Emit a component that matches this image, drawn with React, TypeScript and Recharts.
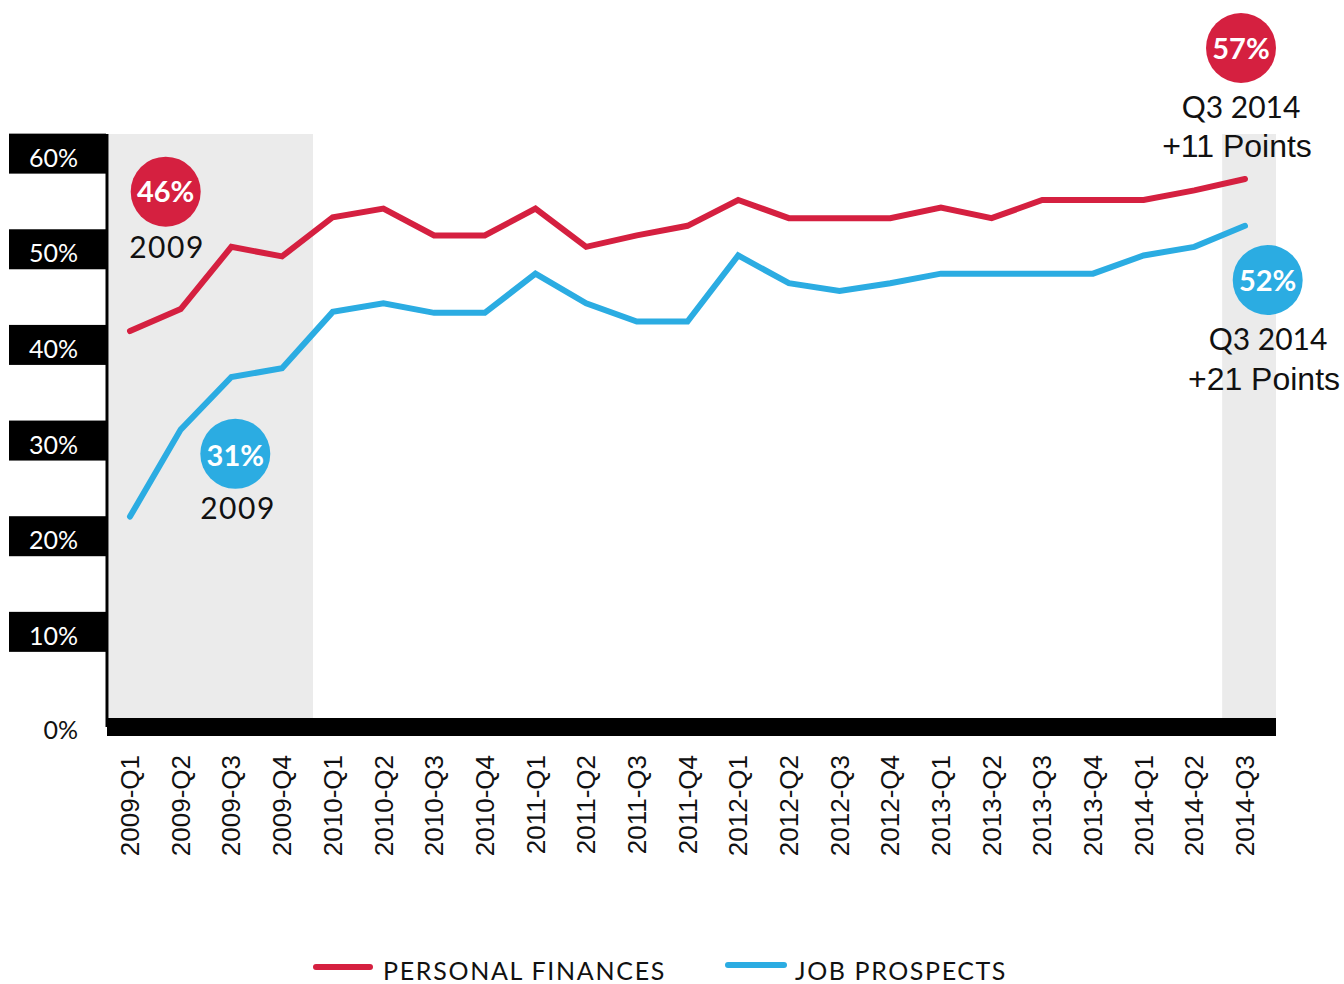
import { LineChart, Line, XAxis, YAxis, ReferenceArea } from 'recharts';

const quarters = [
  '2009-Q1', '2009-Q2', '2009-Q3', '2009-Q4',
  '2010-Q1', '2010-Q2', '2010-Q3', '2010-Q4',
  '2011-Q1', '2011-Q2', '2011-Q3', '2011-Q4',
  '2012-Q1', '2012-Q2', '2012-Q3', '2012-Q4',
  '2013-Q1', '2013-Q2', '2013-Q3', '2013-Q4',
  '2014-Q1', '2014-Q2', '2014-Q3',
];
const personalFinances = [
  41.4, 43.7, 50.2, 49.2, 53.3, 54.2, 51.4, 51.4, 54.2, 50.2, 51.4, 52.4,
  55.1, 53.2, 53.2, 53.2, 54.3, 53.2, 55.1, 55.1, 55.1, 56.1, 57.3,
];
const jobProspects = [
  22.0, 31.1, 36.6, 37.5, 43.4, 44.3, 43.3, 43.3, 47.4, 44.3, 42.4, 42.4,
  49.3, 46.4, 45.6, 46.4, 47.4, 47.4, 47.4, 47.4, 49.3, 50.2, 52.4,
];
const yTicks = [0, 10, 20, 30, 40, 50, 60];

const RED = '#D52040';
const BLUE = '#2BACE2';
const LIGHT = 'Lato, "Open Sans", sans-serif';
const ARIAL = '"Liberation Sans", Arial, sans-serif';

const data = quarters.map((q, i) => ({
  i,
  quarter: q,
  personal: personalFinances[i],
  jobs: jobProspects[i],
}));

function YTick(props: any) {
  const { y, payload } = props;
  const v = payload.value;
  if (v === 0) {
    return (
      <text x={78} y={y} dy={12} textAnchor="end" fontSize={25} fontFamily={LIGHT} fill="#111">
        0%
      </text>
    );
  }
  return (
    <g>
      <rect x={9} y={y - 19.5} width={97} height={40} fill="#000" />
      <text x={78} y={y} dy={13.5} textAnchor="end" fontSize={25} fontFamily={LIGHT} fill="#fff">
        {v}%
      </text>
    </g>
  );
}

function XTick(props: any) {
  const { x, payload } = props;
  return (
    <text
      transform={`translate(${x},755) rotate(-90)`}
      textAnchor="end"
      dy="0.35em"
      fontSize={26}
      fontFamily={ARIAL}
      fill="#111"
    >
      {quarters[payload.value]}
    </text>
  );
}

export default function App() {
  return (
    <div style={{ position: 'absolute', left: 0, top: 0, width: 1344, height: 984, background: '#fff' }}>
      <LineChart
        width={1344}
        height={984}
        data={data}
        margin={{ top: 134, right: 68, bottom: 0, left: 0 }}
        style={{ position: 'absolute', left: 0, top: 0 }}
      >
        <ReferenceArea x1={-0.42} x2={3.61} fill="#EBEBEB" fillOpacity={1} stroke="none" />
        <ReferenceArea x1={21.55} x2={22.612} fill="#EBEBEB" fillOpacity={1} stroke="none" />
        <XAxis
          type="number"
          dataKey="i"
          domain={[-0.454, 22.612]}
          ticks={quarters.map((_, i) => i)}
          interval={0}
          allowDataOverflow
          height={257}
          axisLine={{ stroke: '#000', strokeWidth: 18 }}
          tickLine={false}
          tick={<XTick />}
        />
        <YAxis
          domain={[0, 62]}
          ticks={yTicks}
          width={107}
          allowDataOverflow
          axisLine={{ stroke: '#000', strokeWidth: 3 }}
          tickLine={false}
          tick={<YTick />}
        />
        <Line
          dataKey="personal"
          stroke={RED}
          strokeWidth={6}
          strokeLinecap="round"
          dot={false}
          isAnimationActive={false}
        />
        <Line
          dataKey="jobs"
          stroke={BLUE}
          strokeWidth={6}
          strokeLinecap="round"
          dot={false}
          isAnimationActive={false}
        />
      </LineChart>
      <svg width={1344} height={984} style={{ position: 'absolute', left: 0, top: 0, pointerEvents: 'none' }}>
        <circle cx={165.7} cy={191.7} r={35} fill={RED} />
        <text x={165.7} y={202} textAnchor="middle" fontSize={29} fontWeight={700} fontFamily={LIGHT} fill="#fff">46%</text>
        <text x={167} y={258} textAnchor="middle" fontSize={30} letterSpacing={1.5} fontFamily={LIGHT} fill="#111">2009</text>

        <circle cx={235.3} cy={453.8} r={35} fill={BLUE} />
        <text x={235.3} y={466} textAnchor="middle" fontSize={29} fontWeight={700} fontFamily={LIGHT} fill="#fff">31%</text>
        <text x={238} y={519} textAnchor="middle" fontSize={30} letterSpacing={1.5} fontFamily={LIGHT} fill="#111">2009</text>

        <circle cx={1241} cy={48} r={35} fill={RED} />
        <text x={1241} y={59} textAnchor="middle" fontSize={29} fontWeight={700} fontFamily={LIGHT} fill="#fff">57%</text>
        <text x={1241} y={118} textAnchor="middle" fontSize={30} fontFamily={LIGHT} fill="#111">Q3 2014</text>
        <text x={1237} y={157} textAnchor="middle" fontSize={32} fontFamily={ARIAL} fill="#111">+11 Points</text>

        <circle cx={1267.7} cy={280} r={35} fill={BLUE} />
        <text x={1267.7} y={291} textAnchor="middle" fontSize={29} fontWeight={700} fontFamily={LIGHT} fill="#fff">52%</text>
        <text x={1268} y={350} textAnchor="middle" fontSize={30} fontFamily={LIGHT} fill="#111">Q3 2014</text>
        <text x={1264} y={390} textAnchor="middle" fontSize={32} fontFamily={ARIAL} fill="#111">+21 Points</text>

        <line x1={316} y1={967} x2={370} y2={967} stroke={RED} strokeWidth={6} strokeLinecap="round" />
        <text x={383} y={980} fontSize={25} letterSpacing={1.7} fontFamily={LIGHT} fill="#111">PERSONAL FINANCES</text>
        <line x1={728} y1={965} x2={784} y2={965} stroke={BLUE} strokeWidth={6} strokeLinecap="round" />
        <text x={795} y={980} fontSize={25} letterSpacing={1.6} fontFamily={LIGHT} fill="#111">JOB PROSPECTS</text>
      </svg>
    </div>
  );
}
